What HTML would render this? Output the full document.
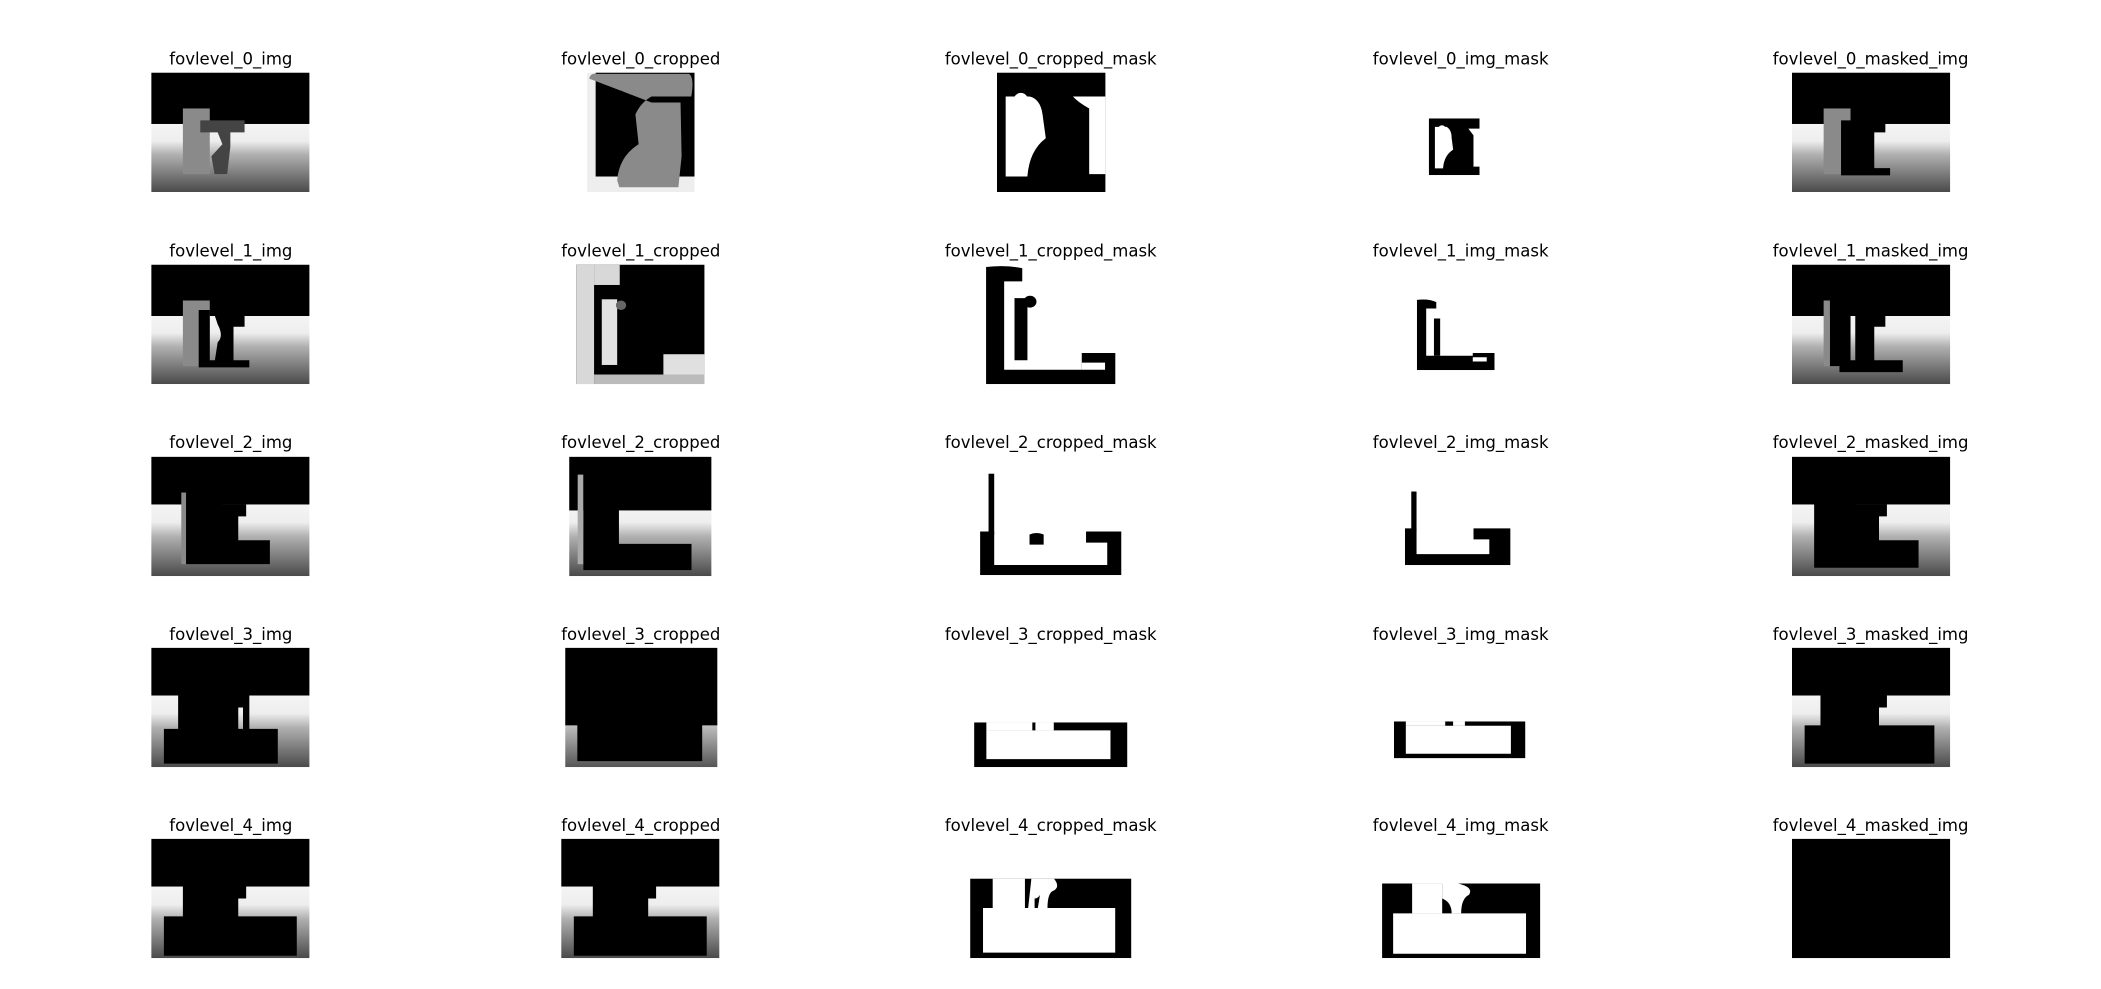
<!DOCTYPE html>
<html><head><meta charset="utf-8">
<style>
body{margin:0;background:#fff;width:2101px;height:989px;position:relative;overflow:hidden;font-family:"DejaVu Sans","Liberation Sans",sans-serif}
#wrap{position:absolute;left:0;top:0;width:2101px;height:989px;transform:scale(0.995);transform-origin:0 0}
.t{position:absolute;font-size:16.6px;color:#000;transform:translateX(-50%);white-space:nowrap;line-height:17px}
svg.p{position:absolute}
</style></head><body>
<svg width="0" height="0" style="position:absolute">
<defs>
<linearGradient id="floor" x1="0" y1="0" x2="0" y2="1">
<stop offset="0" stop-color="#f4f4f4"/><stop offset="0.25" stop-color="#eeeeee"/><stop offset="0.45" stop-color="#b0b0b0"/><stop offset="1" stop-color="#4a4a4a"/>
</linearGradient>
<linearGradient id="floor2" x1="0" y1="0" x2="0" y2="1">
<stop offset="0" stop-color="#dddddd"/><stop offset="1" stop-color="#555"/>
</linearGradient>
</defs>
</svg>
<div id="wrap">
<!-- Row 0 -->
<div class="t" style="left:232px;top:51px">fovlevel_0_img</div>
<svg class="p" style="left:152px;top:73px" width="159" height="120" viewBox="0 0 100 100" preserveAspectRatio="none">
<rect x="0" y="43" width="100" height="57" fill="url(#floor)"/><rect x="0" y="0" width="100" height="43" fill="#000"/>
<rect x="20" y="30" width="17" height="55" fill="#8a8a8a"/>
<path d="M31 40 H59 V50 H50 V62 L48 85 H40 L38 70 L45 60 L42 50 H31Z" fill="#444"/></svg>

<div class="t" style="left:644px;top:51px">fovlevel_0_cropped</div>
<svg class="p" style="left:590px;top:73px" width="108" height="120" viewBox="0 0 100 100" preserveAspectRatio="none">
<rect width="100" height="100" fill="#eee"/><rect x="8" y="0" width="92" height="87" fill="#000"/>
<path d="M2 5 Q3 0 10 1 H95 Q100 4 97 20 H60 Q50 25 45 35 L48 60 Q30 70 28 90 L30 96 H85 L88 70 L87 25 H60" fill="#8a8a8a"/>
<circle cx="30" cy="22" r="7" fill="#000"/></svg>

<div class="t" style="left:1056px;top:51px">fovlevel_0_cropped_mask</div>
<svg class="p" style="left:1002px;top:73px" width="109" height="120" viewBox="0 0 100 100" preserveAspectRatio="none">
<rect width="100" height="100" fill="#000"/>
<path d="M8 20 H30 Q40 22 42 35 L45 55 Q30 65 28 87 H8Z" fill="#fff"/><circle cx="22" cy="24" r="7" fill="#fff"/>
<path d="M70 20 H100 V85 H85 V80 L85 30 Q75 25 70 20Z" fill="#fff"/></svg>

<div class="t" style="left:1468px;top:51px">fovlevel_0_img_mask</div>
<svg class="p" style="left:1436px;top:119px" width="51" height="57" viewBox="0 0 100 100" preserveAspectRatio="none">
<rect width="100" height="100" fill="#000"/>
<path d="M12 15 H35 Q45 20 45 35 L48 55 Q30 65 28 88 H12Z" fill="#fff"/><circle cx="26" cy="20" r="8" fill="#fff"/>
<path d="M78 18 H100 V85 H88 V30Z" fill="#fff"/></svg>

<div class="t" style="left:1880px;top:51px">fovlevel_0_masked_img</div>
<svg class="p" style="left:1801px;top:73px" width="159" height="120" viewBox="0 0 100 100" preserveAspectRatio="none">
<rect x="0" y="43" width="100" height="57" fill="url(#floor)"/><rect x="0" y="0" width="100" height="43" fill="#000"/>
<rect x="20" y="30" width="17" height="55" fill="#8a8a8a"/>
<path d="M31 40 H59 V50 H52 V80 H62 V86 H31Z" fill="#000"/></svg>

<!-- Row 1 -->
<div class="t" style="left:232px;top:244px">fovlevel_1_img</div>
<svg class="p" style="left:152px;top:266px" width="159" height="120" viewBox="0 0 100 100" preserveAspectRatio="none">
<rect x="0" y="43" width="100" height="57" fill="url(#floor)"/><rect x="0" y="0" width="100" height="43" fill="#000"/>
<rect x="20" y="30" width="17" height="55" fill="#8a8a8a"/>
<path d="M30 38 H37 V85 H30Z M30 80 H62 V86 H30Z M40 42 H59 V52 H52 V82 H40 L42 65 Q46 60 42 50Z" fill="#000"/></svg>

<div class="t" style="left:644px;top:244px">fovlevel_1_cropped</div>
<svg class="p" style="left:579px;top:266px" width="129" height="120" viewBox="0 0 100 100" preserveAspectRatio="none">
<rect width="100" height="100" fill="#000"/>
<rect x="0" y="0" width="14" height="100" fill="#d8d8d8"/><rect x="14" y="0" width="20" height="17" fill="#d8d8d8"/>
<rect x="20" y="29" width="12" height="55" fill="#e2e2e2"/><circle cx="35" cy="34" r="4" fill="#666"/>
<rect x="68" y="75" width="32" height="25" fill="#e0e0e0"/><rect x="14" y="92" width="86" height="8" fill="#bbb"/></svg>

<div class="t" style="left:1056px;top:244px">fovlevel_1_cropped_mask</div>
<svg class="p" style="left:991px;top:266px" width="130" height="120" viewBox="0 0 100 100" preserveAspectRatio="none">
<path d="M0 2 Q15 0 28 3 V14 H14 V88 H74 V74 H100 V100 H0Z" fill="#000"/>
<path d="M74 82 H92 V88 H74Z" fill="#fff"/>
<path d="M22 28 H32 V80 H22Z" fill="#000"/><circle cx="34" cy="31" r="5" fill="#000"/></svg>

<div class="t" style="left:1468px;top:244px">fovlevel_1_img_mask</div>
<svg class="p" style="left:1424px;top:300px" width="78" height="72" viewBox="0 0 100 100" preserveAspectRatio="none">
<path d="M0 2 Q15 0 25 5 V14 H12 V80 H72 V76 H100 V100 H0Z" fill="#000"/>
<path d="M72 82 H90 V88 H72Z" fill="#fff"/><path d="M22 28 H30 V80 H22Z" fill="#000"/></svg>

<div class="t" style="left:1880px;top:244px">fovlevel_1_masked_img</div>
<svg class="p" style="left:1801px;top:266px" width="159" height="120" viewBox="0 0 100 100" preserveAspectRatio="none">
<rect x="0" y="43" width="100" height="57" fill="url(#floor)"/><rect x="0" y="0" width="100" height="43" fill="#000"/>
<rect x="20" y="30" width="4" height="55" fill="#8a8a8a"/>
<path d="M24 30 H37 V85 H24Z M30 80 H70 V90 H30Z M40 42 H59 V52 H52 V82 H40Z" fill="#000"/></svg>

<!-- Row 2 -->
<div class="t" style="left:232px;top:436px">fovlevel_2_img</div>
<svg class="p" style="left:152px;top:459px" width="159" height="120" viewBox="0 0 100 100" preserveAspectRatio="none">
<rect x="0" y="40" width="100" height="60" fill="url(#floor)"/><rect x="0" y="0" width="100" height="40" fill="#000"/>
<rect x="19" y="30" width="4" height="60" fill="#8a8a8a"/>
<path d="M22 30 H45 V70 H75 V90 H22Z M45 40 H60 V50 H55 V72 H45Z" fill="#000"/></svg>

<div class="t" style="left:644px;top:436px">fovlevel_2_cropped</div>
<svg class="p" style="left:572px;top:459px" width="143" height="120" viewBox="0 0 100 100" preserveAspectRatio="none">
<rect y="40" width="100" height="60" fill="url(#floor)"/><rect width="100" height="45" fill="#000"/>
<rect x="6" y="15" width="4" height="75" fill="#aaa"/>
<path d="M10 10 H35 V73 H86 V95 H10Z" fill="#000"/></svg>

<div class="t" style="left:1056px;top:436px">fovlevel_2_cropped_mask</div>
<svg class="p" style="left:985px;top:476px" width="142" height="102" viewBox="0 0 100 100" preserveAspectRatio="none">
<rect x="6" y="0" width="4" height="60" fill="#000"/>
<path d="M0 57 H10 V90 H90 V68 H75 V57 H100 V100 H0Z" fill="#000"/>
<path d="M35 60 Q40 57 45 60 V70 H35Z" fill="#000"/></svg>

<div class="t" style="left:1468px;top:436px">fovlevel_2_img_mask</div>
<svg class="p" style="left:1412px;top:494px" width="106" height="74" viewBox="0 0 100 100" preserveAspectRatio="none">
<rect x="6" y="0" width="5" height="55" fill="#000"/>
<path d="M0 50 H11 V85 H80 V65 H65 V50 H100 V100 H0Z" fill="#000"/></svg>

<div class="t" style="left:1880px;top:436px">fovlevel_2_masked_img</div>
<svg class="p" style="left:1801px;top:459px" width="159" height="120" viewBox="0 0 100 100" preserveAspectRatio="none">
<rect x="0" y="40" width="100" height="60" fill="url(#floor)"/><rect x="0" y="0" width="100" height="40" fill="#000"/>
<path d="M14 30 H40 V70 H80 V93 H14Z M40 40 H60 V50 H55 V72 H40Z" fill="#000"/></svg>

<!-- Row 3 -->
<div class="t" style="left:232px;top:629px">fovlevel_3_img</div>
<svg class="p" style="left:152px;top:651px" width="159" height="120" viewBox="0 0 100 100" preserveAspectRatio="none">
<rect x="0" y="40" width="100" height="60" fill="url(#floor)"/><rect x="0" y="0" width="100" height="40" fill="#000"/>
<path d="M17 30 H40 V68 H58 V35 H62 V68 H80 V97 H8 V68 H17Z M40 40 H60 V50 H55 V70 H40Z" fill="#000"/></svg>

<div class="t" style="left:644px;top:629px">fovlevel_3_cropped</div>
<svg class="p" style="left:568px;top:651px" width="153" height="120" viewBox="0 0 100 100" preserveAspectRatio="none">
<rect y="55" width="100" height="45" fill="url(#floor2)"/><rect width="100" height="65" fill="#000"/>
<path d="M8 60 H90 V95 H8Z" fill="#000"/></svg>

<div class="t" style="left:1056px;top:629px">fovlevel_3_cropped_mask</div>
<svg class="p" style="left:979px;top:726px" width="154" height="45" viewBox="0 0 100 100" preserveAspectRatio="none">
<path d="M0 0 H100 V100 H0Z M8 18 V82 H89 V18Z" fill="#000" fill-rule="evenodd"/>
<rect x="8" y="0" width="30" height="18" fill="#fff"/><rect x="40" y="0" width="12" height="18" fill="#fff"/></svg>

<div class="t" style="left:1468px;top:629px">fovlevel_3_img_mask</div>
<svg class="p" style="left:1401px;top:725px" width="132" height="37" viewBox="0 0 100 100" preserveAspectRatio="none">
<path d="M0 0 H100 V100 H0Z M9 12 V88 H89 V12Z" fill="#000" fill-rule="evenodd"/>
<rect x="9" y="0" width="30" height="12" fill="#fff"/><rect x="45" y="0" width="9" height="12" fill="#fff"/></svg>

<div class="t" style="left:1880px;top:629px">fovlevel_3_masked_img</div>
<svg class="p" style="left:1801px;top:651px" width="159" height="120" viewBox="0 0 100 100" preserveAspectRatio="none">
<rect x="0" y="40" width="100" height="60" fill="url(#floor)"/><rect x="0" y="0" width="100" height="40" fill="#000"/>
<path d="M18 30 H40 V65 H90 V97 H8 V65 H18Z M40 40 H60 V50 H55 V67 H40Z" fill="#000"/></svg>

<!-- Row 4 -->
<div class="t" style="left:232px;top:821px">fovlevel_4_img</div>
<svg class="p" style="left:152px;top:843px" width="159" height="120" viewBox="0 0 100 100" preserveAspectRatio="none">
<rect x="0" y="40" width="100" height="60" fill="url(#floor)"/><rect x="0" y="0" width="100" height="40" fill="#000"/>
<path d="M20 30 H40 V65 H92 V98 H8 V65 H20Z M40 40 H60 V50 H55 V67 H40Z" fill="#000"/></svg>

<div class="t" style="left:644px;top:821px">fovlevel_4_cropped</div>
<svg class="p" style="left:564px;top:843px" width="159" height="120" viewBox="0 0 100 100" preserveAspectRatio="none">
<rect x="0" y="40" width="100" height="60" fill="url(#floor)"/><rect x="0" y="0" width="100" height="40" fill="#000"/>
<path d="M20 30 H40 V65 H92 V98 H8 V65 H20Z M40 40 H60 V50 H55 V67 H40Z" fill="#000"/></svg>

<div class="t" style="left:1056px;top:821px">fovlevel_4_cropped_mask</div>
<svg class="p" style="left:975px;top:883px" width="162" height="80" viewBox="0 0 100 100" preserveAspectRatio="none">
<path d="M0 0 H100 V100 H0Z M8 37 V93 H90 V37Z" fill="#000" fill-rule="evenodd"/>
<rect x="14" y="0" width="20" height="37" fill="#fff"/><path d="M38 0 H45 Q45 25 40 25 L40 37 H36 Z" fill="#fff"/>
<path d="M45 0 H52 Q56 10 52 15 Q48 17 48 37 H42 Z" fill="#fff"/></svg>

<div class="t" style="left:1468px;top:821px">fovlevel_4_img_mask</div>
<svg class="p" style="left:1389px;top:888px" width="159" height="75" viewBox="0 0 100 100" preserveAspectRatio="none">
<path d="M0 0 H100 V100 H0Z M7 40 V94 H91 V40Z" fill="#000" fill-rule="evenodd"/>
<rect x="19" y="0" width="19" height="40" fill="#fff"/><path d="M38 0 H48 Q58 5 55 15 Q50 20 50 40 H44 Q44 25 38 20 Z" fill="#fff"/></svg>

<div class="t" style="left:1880px;top:821px">fovlevel_4_masked_img</div>
<svg class="p" style="left:1801px;top:843px" width="159" height="120" viewBox="0 0 100 100" preserveAspectRatio="none">
<rect width="100" height="100" fill="#000"/></svg>
</div>
</body></html>
